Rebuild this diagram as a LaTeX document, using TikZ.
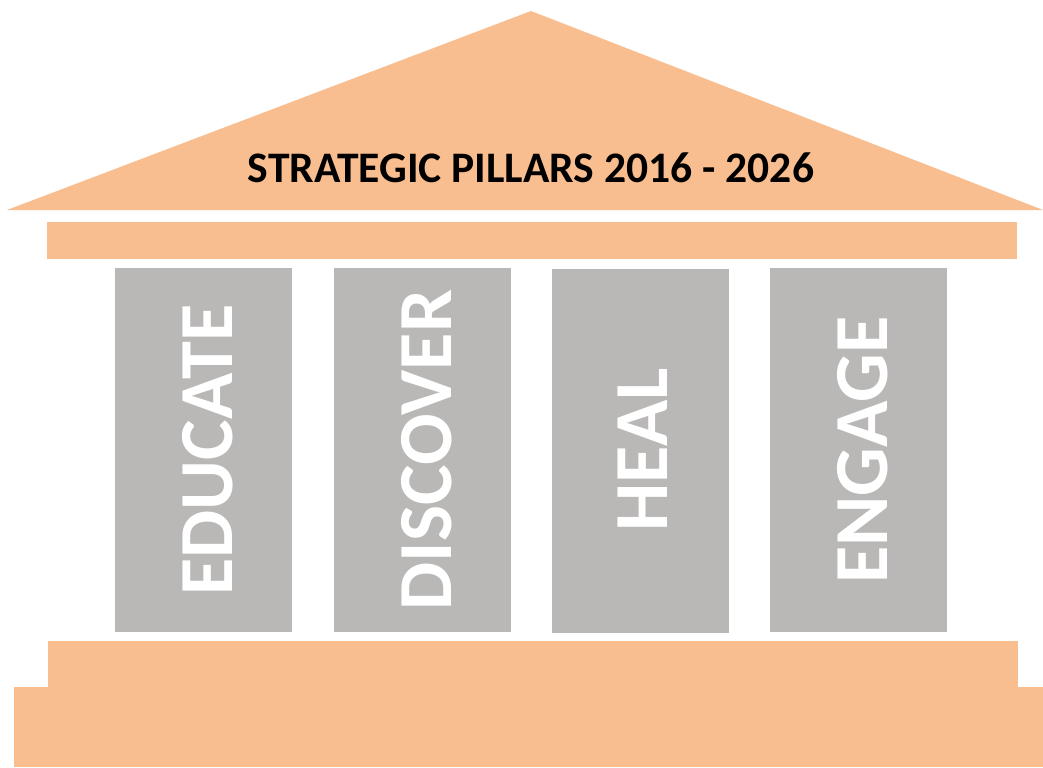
\documentclass[tikz,border=0pt]{standalone}
\usepackage{fontspec}
\setmainfont{Carlito}
\usepackage{tikz}
\definecolor{roof}{RGB}{249,190,144}
\definecolor{stone}{RGB}{185,184,182}
\tikzset{
	orange part/.style={fill=roof},
	pillar/.style={fill=stone},
	pillar label/.style={rotate=90, text=white, inner sep=0pt, font=\bfseries\fontsize{43.5}{50}\selectfont}
}

\begin{document}
\begin{tikzpicture}[x=0.02cm, y=-0.02cm]
			%%%%% START %%%%%
			\useasboundingbox (0, 0) rectangle (1043, 767);
			
			% roof and beam
			\fill[orange part] (7, 210) -- (531, 11) -- (1043, 210) -- cycle;
			\node[font=\bfseries\fontsize{24.8}{30}\selectfont, inner sep=0pt] (title) at (531, 168) {STRATEGIC PILLARS 2016 - 2026};
			\fill[orange part] (47, 222) rectangle (1017, 259);
			
			% pillars
			\fill[pillar] (115, 268) rectangle (292, 632);
			\node[pillar label] (educate) at (207.5, 450) {EDUCATE};
			
			\fill[pillar] (334, 268) rectangle (511, 632);
			\node[pillar label] (discover) at (426.5, 450) {DISCOVER};
			
			\fill[pillar] (552, 269) rectangle (729, 633);
			\node[pillar label] (heal) at (643, 450) {HEAL};
			
			\fill[pillar] (770, 268) rectangle (947, 632);
			\node[pillar label] (engage) at (862.5, 450) {ENGAGE};
			
			% steps
			\fill[orange part] (48, 641) rectangle (1018, 687);
			\fill[orange part] (14, 687) rectangle (1043, 767);
			
			%%%%% END %%%%%
\end{tikzpicture}
\end{document}
